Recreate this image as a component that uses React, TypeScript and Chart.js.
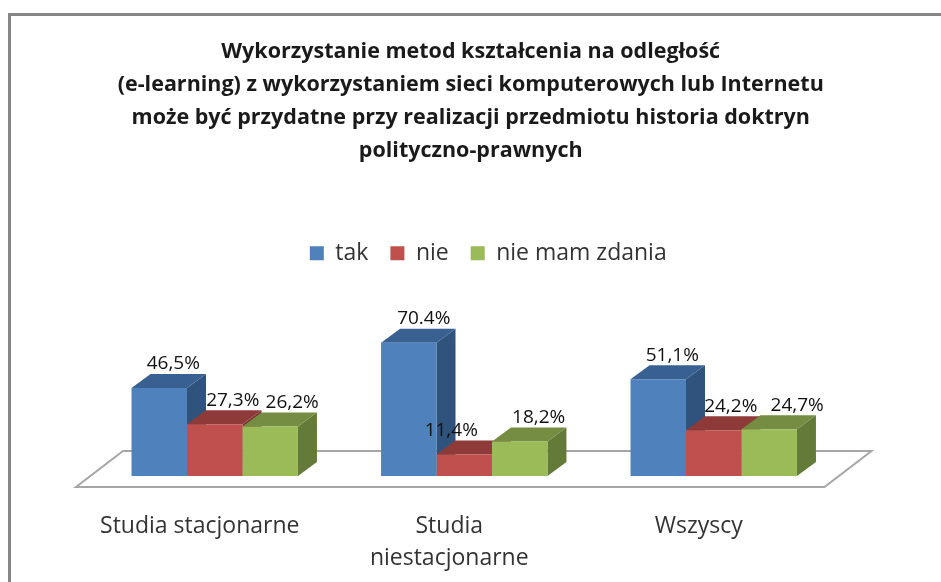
import React, { useEffect, useRef } from "react";
import { Chart, registerables } from "chart.js";

Chart.register(...registerables);

const titleLines = [
  "Wykorzystanie metod kształcenia na odległość",
  "(e-learning) z wykorzystaniem sieci komputerowych lub Internetu",
  "może być przydatne przy realizacji przedmiotu historia doktryn",
  "polityczno-prawnych",
];
const categories = [["Studia stacjonarne"], ["Studia", "niestacjonarne"], ["Wszyscy"]];
const seriesNames = ["tak", "nie", "nie mam zdania"];
const takValues = [46.5, 70.4, 51.1];
const nieValues = [27.3, 11.4, 24.2];
const brakValues = [26.2, 18.2, 24.7];
const takLabels = ["46,5%", "70.4%", "51,1%"];
const nieLabels = ["27,3%", "11,4%", "24,2%"];
const brakLabels = ["26,2%", "18,2%", "24,7%"];

const allLabels = [takLabels, nieLabels, brakLabels];
const frontColors = ["#4F81BD", "#C0504D", "#9BBB59"];
const topColors = ["#386192", "#8E3A38", "#748D42"];
const sideColors = ["#2F537C", "#7F3331", "#647A38"];
const labelNudgeX = [
  [14, 15, 14],
  [18, -13, 17],
  [22, 19, 28],
];
const DEPTH_X = 19;
const DEPTH_Y = 14;
const FONT = '"Open Sans", sans-serif';

const poly = (ctx: CanvasRenderingContext2D, pts: number[][], fill: string) => {
  ctx.beginPath();
  pts.forEach(([x, y], i) => (i ? ctx.lineTo(x, y) : ctx.moveTo(x, y)));
  ctx.closePath();
  ctx.fillStyle = fill;
  ctx.fill();
};

const scene3d = {
  id: "scene3d",
  afterLayout(chart: any) {
    chart.titleBlock.left += 6.5;
    chart.titleBlock.right += 6.5;
    chart.legend.left += 24;
    chart.legend.right += 24;
  },
  beforeDraw(chart: any) {
    const { ctx } = chart;
    ctx.save();
    ctx.strokeStyle = "#868686";
    ctx.lineWidth = 3;
    ctx.beginPath();
    ctx.moveTo(9.5, 582);
    ctx.lineTo(9.5, 14.5);
    ctx.lineTo(941, 14.5);
    ctx.stroke();
    ctx.restore();
  },
  beforeDatasetsDraw(chart: any) {
    const { ctx, chartArea } = chart;
    const base = chartArea.bottom;
    ctx.save();
    ctx.strokeStyle = "#A6A6A6";
    ctx.lineWidth = 2;
    ctx.beginPath();
    ctx.moveTo(chartArea.left - 14, base + 11);
    ctx.lineTo(chartArea.right - 14, base + 11);
    ctx.lineTo(chartArea.right + 33, base - 25);
    ctx.lineTo(chartArea.left + 33, base - 25);
    ctx.closePath();
    ctx.stroke();
    chart.data.datasets.forEach((_: any, d: number) => {
      chart.getDatasetMeta(d).data.forEach((bar: any) => {
        const p = bar.getProps(["x", "y", "base", "width"], true);
        const l = p.x - p.width / 2;
        const r = p.x + p.width / 2;
        poly(ctx, [[r, p.y], [r + DEPTH_X, p.y - DEPTH_Y], [r + DEPTH_X, p.base - DEPTH_Y], [r, p.base]], sideColors[d]);
        poly(ctx, [[l, p.y], [l + DEPTH_X, p.y - DEPTH_Y], [r + DEPTH_X, p.y - DEPTH_Y], [r, p.y]], topColors[d]);
      });
    });
    ctx.restore();
  },
  afterDatasetsDraw(chart: any) {
    const { ctx } = chart;
    ctx.save();
    ctx.font = `19px ${FONT}`;
    ctx.fillStyle = "#111111";
    ctx.textAlign = "center";
    ctx.textBaseline = "middle";
    chart.data.datasets.forEach((_: any, d: number) => {
      chart.getDatasetMeta(d).data.forEach((bar: any, i: number) => {
        const p = bar.getProps(["x", "y"], true);
        ctx.fillText(allLabels[d][i], p.x + labelNudgeX[d][i], p.y - 24);
      });
    });
    ctx.restore();
  },
};

export default function App() {
  const ref = useRef<HTMLCanvasElement | null>(null);
  useEffect(() => {
    document.body.style.margin = "0";
    const values = [takValues, nieValues, brakValues];
    const chart = new Chart(ref.current as HTMLCanvasElement, {
      type: "bar",
      data: {
        labels: categories as any,
        datasets: seriesNames.map((name, i) => ({
          label: name,
          data: values[i],
          backgroundColor: frontColors[i],
          borderWidth: 0,
          categoryPercentage: 0.667,
          barPercentage: 1,
        })),
      },
      options: {
        responsive: false,
        animation: false,
        layout: { padding: { left: 90, right: 102.5, top: 0, bottom: 0 } },
        plugins: {
          tooltip: { enabled: false },
          title: {
            display: true,
            text: titleLines,
            color: "#1a1a1a",
            font: { family: FONT, size: 21.5, weight: "bold", lineHeight: 1.52 },
            padding: { top: 36, bottom: 53 },
          },
          legend: {
            display: true,
            position: "top",
            labels: {
              boxWidth: 14,
              boxHeight: 14,
              padding: 22,
              color: "#333333",
              font: { family: FONT, size: 23 },
            },
          },
        },
        scales: {
          x: {
            grid: { display: false, drawTicks: false },
            border: { display: false },
            afterFit: (s: any) => {
              s.height = 106;
            },
            ticks: {
              autoSkip: false,
              maxRotation: 0,
              minRotation: 0,
              padding: 34,
              labelOffset: -15,
              color: "#333333",
              font: { family: FONT, size: 23, lineHeight: 1.4 },
            },
          },
          y: { display: false, min: 0, max: 106.3 },
        },
      },
      plugins: [scene3d],
    } as any);
    return () => chart.destroy();
  }, []);
  return <canvas ref={ref} width={941} height={582} style={{ display: "block" }} />;
}
